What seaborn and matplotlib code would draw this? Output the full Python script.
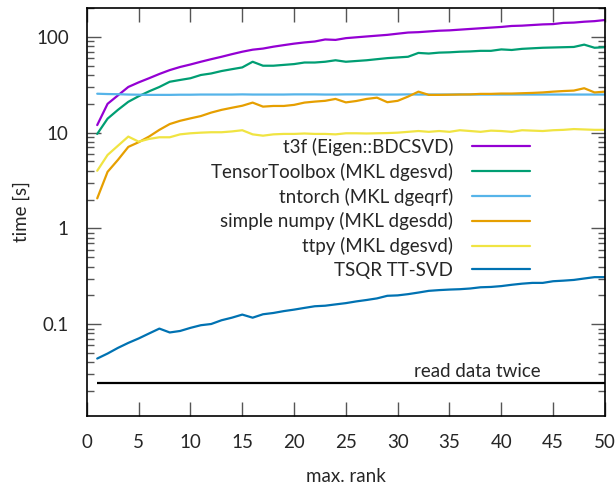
import numpy as np
import pandas as pd
import matplotlib
matplotlib.use('Agg')
import matplotlib.pyplot as plt
import seaborn as sns

# ranks 1..50
ranks = list(range(1, 51))

t3f = [12, 20, 24.5, 30, 33.5, 37, 41, 45, 48.5, 51.5,
       55, 58.5, 62, 66, 70, 73.5, 75.5, 79, 82, 85,
       87.5, 89.5, 94, 93, 97, 99, 101, 103, 105, 108,
       111, 112, 114, 116, 117, 119, 121, 123, 125, 127,
       130, 131, 133, 135, 136, 140, 141, 144, 146, 150]
tensortoolbox = [9.7, 14, 17.3, 21, 24, 27, 30, 34, 35.5, 37,
                 40, 41.5, 44, 46, 48, 55, 50, 50, 51, 52,
                 54, 54, 55, 57, 55, 56, 57, 58.5, 60, 61,
                 62, 68, 67, 68.5, 69, 70, 70.5, 71.5, 71.5, 74,
                 73, 75, 76, 77, 77.5, 78, 78.5, 83, 77, 78]
tntorch = [25.5, 25.3, 25.2, 25.0, 24.9, 24.8, 24.8, 24.8, 24.9, 24.9,
           25.0, 25.0, 25.0, 25.0, 25.1, 25.0, 25.0, 25.0, 25.0, 25.1,
           25.1, 25.1, 25.0, 25.0, 25.1, 25.1, 25.1, 25.0, 25.0, 25.0,
           25.1, 25.0, 25.0, 25.0, 25.0, 25.1, 25.0, 25.0, 25.0, 25.0,
           25.0, 25.0, 25.0, 25.0, 25.0, 25.0, 25.0, 25.0, 25.0, 25.0]
simple_numpy = [2.06, 3.9, 5.2, 7.1, 7.95, 9.1, 10.7, 12.3, 13.3, 14.1,
                14.9, 16.2, 17.3, 18.2, 19.1, 20.6, 18.7, 19, 19, 19.5,
                20.6, 21.1, 21.5, 22.5, 20.7, 21.4, 22.5, 23.2, 20.8, 21.5,
                23.8, 26.8, 24.8, 24.8, 24.9, 25, 25.1, 25.4, 25.4, 25.6,
                25.6, 25.8, 26, 26.3, 26.8, 27.2, 27.5, 29.1, 26.3, 26.8]
ttpy = [4.0, 5.85, 7.3, 9.1, 8.05, 8.6, 8.95, 8.95, 9.6, 9.85,
        10, 10.1, 10.1, 10.3, 10.6, 9.6, 9.3, 9.6, 9.7, 9.7,
        9.8, 9.7, 9.7, 9.6, 9.85, 9.85, 9.8, 9.85, 9.9, 10,
        10.2, 10.4, 10.2, 10.4, 10.2, 10.6, 10.4, 10.2, 10.5, 10.4,
        10.2, 10.6, 10.5, 10.4, 10.6, 10.7, 10.9, 10.8, 10.7, 10.7]
tsqr = [0.0438, 0.0494, 0.0566, 0.0638, 0.071, 0.080, 0.090, 0.082, 0.085, 0.0916,
        0.0976, 0.1005, 0.110, 0.117, 0.126, 0.117, 0.127, 0.131, 0.137, 0.142,
        0.148, 0.154, 0.156, 0.161, 0.166, 0.173, 0.179, 0.186, 0.198, 0.200,
        0.206, 0.214, 0.223, 0.227, 0.230, 0.232, 0.236, 0.243, 0.245, 0.250,
        0.258, 0.265, 0.270, 0.270, 0.281, 0.285, 0.290, 0.300, 0.310, 0.310]
read_twice = 0.0242

labels = ['t3f (Eigen::BDCSVD)', 'TensorToolbox (MKL dgesvd)', 'tntorch (MKL dgeqrf)',
          'simple numpy (MKL dgesdd)', 'ttpy (MKL dgesvd)', 'TSQR TT-SVD']
series = [t3f, tensortoolbox, tntorch, simple_numpy, ttpy, tsqr]
colors = ['#9400d3', '#009e73', '#56b4e9', '#e69f00', '#f0e442', '#0072b2']

sns.set_style('ticks')
plt.rcParams['font.family'] = ['Lato', 'DejaVu Sans']

fig = plt.figure(figsize=(6.16, 4.88), dpi=100)
ax = fig.add_axes([0.141, 0.1475, 0.841, 0.836])

for lab, vals, col in zip(labels, series, colors):
    sns.lineplot(x=ranks, y=vals, color=col, label=lab, linewidth=1.6, ax=ax)

ax.hlines(read_twice, ranks[0], ranks[-1], color='black', linewidth=1.6)
ax.text(43.8, read_twice * 1.07, 'read data twice', ha='right', va='bottom', fontsize=13.5)

ax.set_yscale('log')
ax.set_xlim(0, 50)
ax.set_ylim(0.011, 200)
ax.set_xticks(range(0, 51, 5))
ax.set_yticks([0.1, 1, 10, 100])
ax.set_yticklabels(['0.1', '1', '10', '100'])
ax.tick_params(which='both', direction='in', top=True, right=True, labelsize=13.5,
               color='#555555')
ax.tick_params(which='major', length=10, width=1, pad=13)
ax.tick_params(which='minor', length=5, width=1)
ax.tick_params(axis='x', which='minor', bottom=False, top=False)
for sp in ax.spines.values():
    sp.set_linewidth(1.2)
    sp.set_color('black')

ax.set_xlabel('max. rank', fontsize=13.5, labelpad=12)
ax.set_ylabel('time [s]', fontsize=13.5, labelpad=4)

leg = ax.legend(loc='upper right', bbox_to_anchor=(0.87, 0.70), frameon=False,
                markerfirst=False, fontsize=13.5, handlelength=3.1,
                handletextpad=1.0, labelspacing=0.36, borderaxespad=0)
leg._legend_handle_box.get_children()[0].align = 'right'

fig.savefig('out.png', dpi=100)
